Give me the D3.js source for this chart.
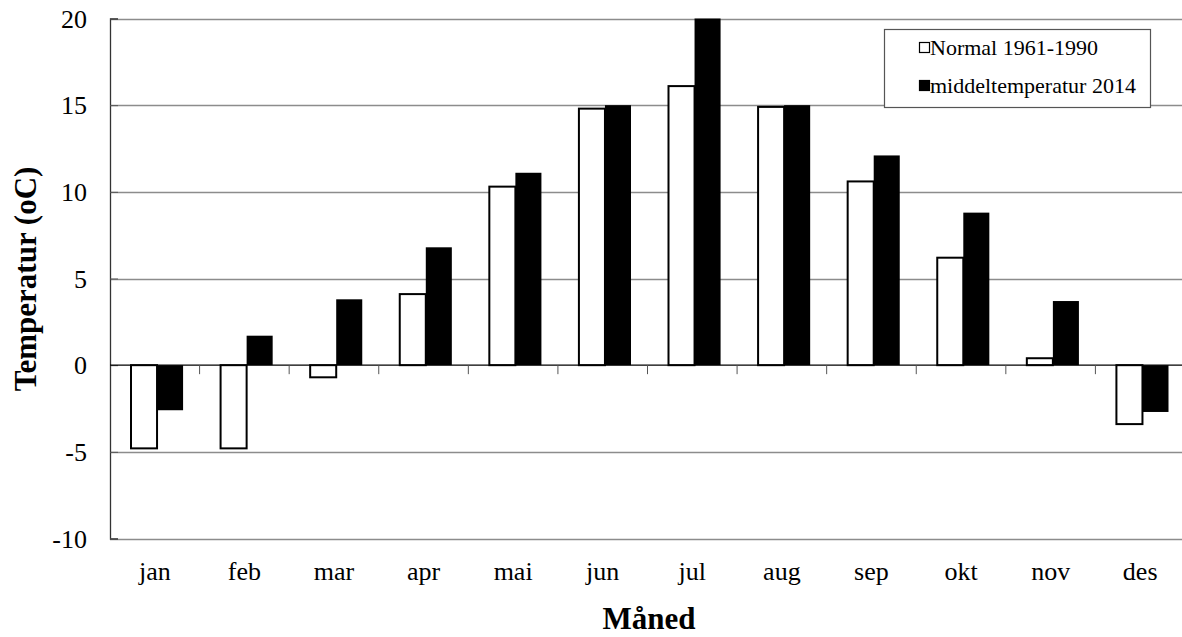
<!DOCTYPE html>
<html>
<head>
<meta charset="utf-8">
<script src="https://cdn.jsdelivr.net/npm/d3@7"></script>
<style>
    body { margin: 0; background: #fff; }
    text { font-family: "Liberation Serif", "Times New Roman", serif; fill: #000; }
</style>
</head>
<body>
<svg id="chart" width="1182" height="637"></svg>
<script>
"use strict";

// months on the x axis
const months = ["jan", "feb", "mar", "apr", "mai", "jun", "jul", "aug", "sep", "okt", "nov", "des"];
// normal 1961-1990
const normal = [-4.8, -4.8, -0.7, 4.1, 10.3, 14.8, 16.1, 14.9, 10.6, 6.2, 0.4, -3.4];
// mean temperature 2014
const mean2014 = [-2.6, 1.7, 3.8, 6.8, 11.1, 15.0, 20.0, 15.0, 12.1, 8.8, 3.7, -2.7];
const seriesNames = ["Normal 1961-1990", "middeltemperatur 2014"];
const yTicks = [-10, -5, 0, 5, 10, 15, 20];

const svg = d3.select("#chart");
const plot = { left: 110, right: 1185, top: 18.5, bottom: 538.5 };

const x = d3.scaleBand().domain(months).range([plot.left, plot.right]);
const inner = d3.scaleBand().domain(seriesNames).range([0, x.bandwidth()])
    .paddingInner(0).paddingOuter(0.72).align(0.56);
const y = d3.scaleLinear().domain([-10, 20]).range([plot.bottom, plot.top]);

// gridlines
svg.append("g")
    .selectAll("line")
    .data(yTicks.filter(d => d !== 0))
    .join("line")
    .attr("x1", plot.left).attr("x2", plot.right)
    .attr("y1", d => Math.round(y(d)) + 0.5).attr("y2", d => Math.round(y(d)) + 0.5)
    .attr("stroke", "#8c8c8c").attr("stroke-width", 1.3);

// y axis (ticks inward)
const yAxis = svg.append("g")
    .attr("transform", `translate(${plot.left},0)`)
    .call(d3.axisRight(y).tickValues(yTicks).tickSize(8).tickFormat(""));
yAxis.select(".domain").attr("stroke", "#333").attr("stroke-width", 1.3);
yAxis.selectAll(".tick line").attr("stroke", "#555");

// y tick labels
svg.append("g")
    .selectAll("text")
    .data(yTicks)
    .join("text")
    .attr("x", 87)
    .attr("y", d => y(d) + 9)
    .attr("text-anchor", "end")
    .style("font-size", "26px")
    .text(d => d);

// bars
const rows = months.map((m, i) => ({ month: m, values: [normal[i], mean2014[i]] }));
const groups = svg.append("g")
    .selectAll("g")
    .data(rows)
    .join("g")
    .attr("transform", d => `translate(${x(d.month)},0)`);
groups.selectAll("rect")
    .data(d => d.values.map((v, k) => ({ name: seriesNames[k], value: v, k: k })))
    .join("rect")
    .attr("x", d => inner(d.name))
    .attr("width", inner.bandwidth())
    .attr("y", d => y(Math.max(0, d.value)))
    .attr("height", d => Math.abs(y(d.value) - y(0)))
    .attr("fill", d => d.k === 0 ? "#fff" : "#000")
    .attr("stroke", d => d.k === 0 ? "#000" : "none")
    .attr("stroke-width", 2);

// x axis along zero with ticks between categories
svg.append("line")
    .attr("x1", plot.left).attr("x2", plot.right)
    .attr("y1", y(0)).attr("y2", y(0))
    .attr("stroke", "#000").attr("stroke-width", 1.3);
svg.append("g")
    .selectAll("line")
    .data(months.slice(1))
    .join("line")
    .attr("x1", d => x(d)).attr("x2", d => x(d))
    .attr("y1", y(0)).attr("y2", y(0) + 9)
    .attr("stroke", "#555");

// month labels
svg.append("g")
    .selectAll("text")
    .data(months)
    .join("text")
    .attr("x", d => x(d) + x.bandwidth() / 2)
    .attr("y", 580)
    .attr("text-anchor", "middle")
    .style("font-size", "26px")
    .text(d => d);

// axis titles
svg.append("text")
    .attr("x", 649)
    .attr("y", 629)
    .attr("text-anchor", "middle")
    .style("font-size", "31px")
    .style("font-weight", "bold")
    .text("Måned");
svg.append("text")
    .attr("transform", "translate(36,279) rotate(-90)")
    .attr("text-anchor", "middle")
    .style("font-size", "31px")
    .style("font-weight", "bold")
    .text("Temperatur (oC)");

// legend
const legend = svg.append("g");
legend.append("rect")
    .attr("x", 884.5).attr("y", 29.5)
    .attr("width", 266).attr("height", 78)
    .attr("fill", "#fff").attr("stroke", "#555").attr("stroke-width", 1.2);
const items = legend.selectAll("g")
    .data(seriesNames)
    .join("g")
    .attr("transform", (d, i) => `translate(919,${55 + i * 38})`);
items.append("rect")
    .attr("x", 0.5).attr("y", -12.5)
    .attr("width", 10).attr("height", 10)
    .attr("fill", (d, i) => i === 0 ? "#fff" : "#000")
    .attr("stroke", "#000").attr("stroke-width", 1.2);
items.append("text")
    .attr("x", 11)
    .attr("y", 0)
    .style("font-size", "22px")
    .text(d => d);
</script>
</body>
</html>
